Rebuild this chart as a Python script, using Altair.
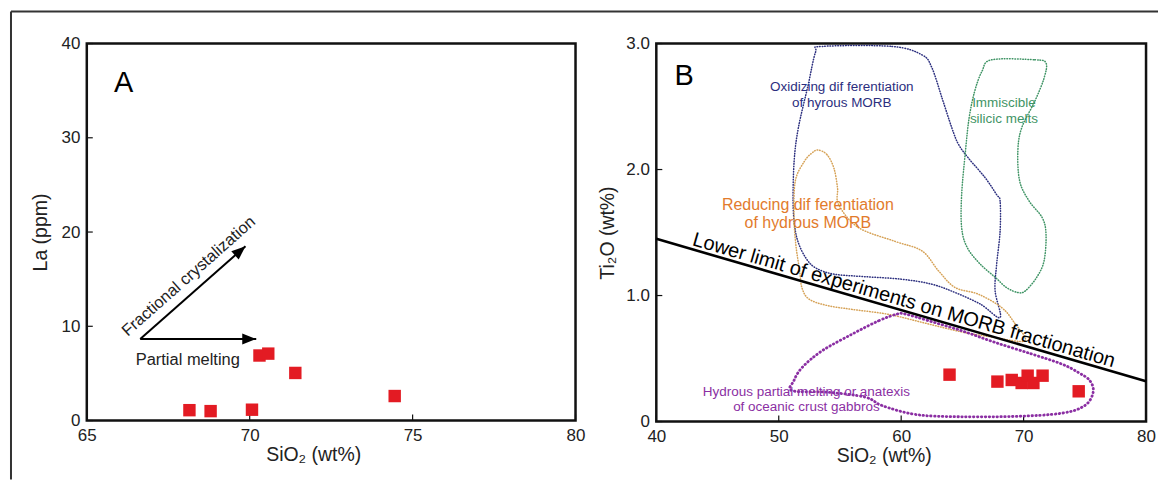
import altair as alt
import pandas as pd
import numpy as np

FONT = "Liberation Sans"

# ---------------- Panel A data ----------------
a_sio2 = [68.15, 68.8, 70.07, 70.3, 70.57, 71.4, 74.45]
a_la = [1.1, 1.0, 1.15, 6.9, 7.1, 5.05, 2.6]
a_xticks = [65, 70, 75, 80]
a_yticks = [0, 10, 20, 30, 40]

arrow_x0 = [66.64, 66.64]
arrow_y0 = [8.65, 8.65]
arrow_x1 = [70.2, 69.87]
arrow_y1 = [8.65, 18.5]

a_label_text = ["A"]
a_label_x = [66.13]
a_label_y = [35.8]

fc_text = ["Fractional crystalization"]
fc_x = [68.13]
fc_y = [15.3]

pm_text = ["Partial melting"]
pm_x = [68.1]
pm_y = [6.4]

# ---------------- Panel B data ----------------
b_sio2 = [63.95, 67.86, 69.03, 69.84, 70.33, 70.8, 71.55, 74.5]
b_tio2 = [0.372, 0.317, 0.33, 0.306, 0.364, 0.306, 0.364, 0.24]
b_xticks = [40, 50, 60, 70, 80]
b_yticks = [0, 1, 2, 3]

limit_x = [40, 80]
limit_y = [1.45, 0.32]
limit_text = ["Lower limit of experiments on MORB fractionation"]

navy_x = [53.55, 59.25, 61.7, 62.5, 63.33, 64.14, 64.68, 65.5, 66.86, 67.8, 68.08, 68.08, 67.8, 67.67,
          68.08, 66.5, 64.5, 62.5, 60.0, 57.0, 54.5, 53.0, 52.2, 51.6, 51.3, 51.17, 51.26, 51.6, 52.4, 53.0]
navy_y = [2.977, 2.977, 2.91, 2.81, 2.57, 2.33, 2.20, 2.09, 1.935, 1.80, 1.75, 1.51, 1.25, 1.04,
          0.826, 0.93, 1.02, 1.09, 1.13, 1.15, 1.17, 1.22, 1.30, 1.42, 1.55, 1.75, 2.07, 2.33, 2.67, 2.93]

green_x = [67.39, 70.91, 71.83, 71.67, 70.91, 69.84, 69.53, 69.68, 70.45, 71.52, 71.83, 71.67, 71.06,
           70.14, 69.53, 68.61, 67.7, 66.47, 65.4, 64.94, 64.94, 65.25, 65.55, 66.0, 66.6]
green_y = [2.871, 2.871, 2.845, 2.726, 2.541, 2.33, 2.145, 1.908, 1.75, 1.618, 1.486, 1.275, 1.143,
           1.037, 1.024, 1.063, 1.143, 1.248, 1.38, 1.538, 1.802, 2.145, 2.41, 2.62, 2.78]

orange_x = [53.2, 53.93, 54.5, 54.8, 54.9, 56.5, 59.5, 61.7, 63.05, 64.4, 66.3, 68.2, 69.2, 70.1,
            67.5, 65.0, 62.0, 59.0, 56.0, 54.0, 52.5, 51.9, 51.7, 51.4, 51.25, 51.35, 52.1, 52.7]
orange_y = [2.155, 2.119, 2.013, 1.855, 1.72, 1.54, 1.43, 1.354, 1.196, 1.064, 1.011, 0.905, 0.79, 0.64,
            0.67, 0.71, 0.78, 0.85, 0.89, 0.92, 0.97, 1.06, 1.20, 1.40, 1.62, 1.908, 2.066, 2.13]

purple_x = [59.66, 58.17, 56.0, 53.55, 51.92, 51.24, 51.1, 54.1, 57.08, 58.44, 60.88, 63.6, 69.03,
            73.1, 75.0, 75.68, 75.41, 74.46, 73.1, 70.66, 67.67, 64.96, 62.24, 60.34]
purple_y = [0.853, 0.80, 0.694, 0.562, 0.43, 0.325, 0.245, 0.232, 0.193, 0.127, 0.061, 0.04, 0.04,
            0.066, 0.127, 0.232, 0.325, 0.39, 0.457, 0.536, 0.628, 0.72, 0.80, 0.853]

ox_text = ["Oxidizing dif ferentiation\nof hyrous MORB"]
ox_x = [55.15]
ox_y = [2.654]

im_text = ["Immiscible\nsilicic melts"]
im_x = [68.39]
im_y = [2.524]

rd_text = ["Reducing dif ferentiation\nof hydrous MORB"]
rd_x = [52.38]
rd_y = [1.721]

hy_text = ["Hydrous partial melting or anatexis\nof oceanic crust gabbros"]
hy_x = [52.26]
hy_y = [0.2355]

b_label_text = ["B"]
b_label_x = [42.28]
b_label_y = [2.74]

# ---------------- layout constants ----------------
WA, HA = 490, 378
WB, HB = 491, 379
A_XDOM, A_YDOM = [65, 80], [0, 40]
B_XDOM, B_YDOM = [40, 80], [0, 3]

RED = "#e31b23"
NAVY = "#2b2e7e"
GREEN = "#3f9465"
ORANGE_LINE = "#d6a257"
ORANGE_TXT = "#e27b2c"
PURPLE = "#8b2fa3"
TXT = "#222222"

one = pd.DataFrame({"k": [0]})


def xs(dom):
    return alt.Scale(domain=dom, nice=False, zero=False)


# ================= Panel A =================
dfA = pd.DataFrame({"x": a_sio2, "y": a_la})
ax_a = alt.Axis(values=a_xticks, title="SiO₂ (wt%)", labelFlush=False,
                titleX=227, titleY=40, titleBaseline="alphabetic", titleAlign="center")
ay_a = alt.Axis(values=a_yticks, title="La (ppm)", titleX=-40, titleBaseline="alphabetic",
                titleAlign="center")

ptsA = alt.Chart(dfA).mark_square(size=155, color=RED, opacity=1).encode(
    x=alt.X("x:Q", scale=xs(A_XDOM), axis=ax_a),
    y=alt.Y("y:Q", scale=xs(A_YDOM), axis=ay_a),
)

xtA = alt.Chart(pd.DataFrame({"t": a_xticks})).mark_rule(color="#111", strokeWidth=1.2).encode(
    x="t:Q", y=alt.value(HA), y2=alt.value(HA - 6))
ytA = alt.Chart(pd.DataFrame({"t": a_yticks})).mark_rule(color="#111", strokeWidth=1.2).encode(
    y="t:Q", x=alt.value(0), x2=alt.value(6))

dfArrow = pd.DataFrame({"x0": arrow_x0, "y0": arrow_y0, "x1": arrow_x1, "y1": arrow_y1})
px_dx = (dfArrow.x1 - dfArrow.x0) * WA / (A_XDOM[1] - A_XDOM[0])
px_dy = (dfArrow.y1 - dfArrow.y0) * HA / (A_YDOM[1] - A_YDOM[0])
dfArrow["ang"] = 90 - np.degrees(np.arctan2(px_dy, px_dx))
fc_angle = -float(np.degrees(np.arctan2(px_dy[1], px_dx[1])))

arrowLines = alt.Chart(dfArrow).mark_rule(color="black", strokeWidth=2).encode(
    x="x0:Q", y="y0:Q", x2="x1:Q", y2="y1:Q")
arrowHeads = alt.Chart(dfArrow).mark_point(
    shape="M0,0L0.8,2L-0.8,2Z", size=196, filled=True, color="black", opacity=1
).encode(x="x1:Q", y="y1:Q", angle=alt.Angle("ang:Q", scale=None))

labA = alt.Chart(pd.DataFrame({"t": a_label_text, "x": a_label_x, "y": a_label_y})).mark_text(
    font=FONT, fontSize=29, color="black", align="center", baseline="middle").encode(
    x="x:Q", y="y:Q", text="t:N")
fcA = alt.Chart(pd.DataFrame({"t": fc_text, "x": fc_x, "y": fc_y})).mark_text(
    font=FONT, fontSize=16.5, color=TXT, align="center", baseline="middle", angle=360 + fc_angle).encode(
    x="x:Q", y="y:Q", text="t:N")
pmA = alt.Chart(pd.DataFrame({"t": pm_text, "x": pm_x, "y": pm_y})).mark_text(
    font=FONT, fontSize=16.5, color=TXT, align="center", baseline="middle").encode(
    x="x:Q", y="y:Q", text="t:N")

frameTop = alt.Chart(one).mark_rule(color="#333", strokeWidth=2).encode(
    x=alt.value(-76), x2=alt.value(1074), y=alt.value(-32))
frameLeft = alt.Chart(one).mark_rule(color="#333", strokeWidth=2).encode(
    x=alt.value(-76), y=alt.value(-32), y2=alt.value(437))

panelA = alt.layer(frameTop, frameLeft, xtA, ytA, arrowLines, arrowHeads, fcA, pmA, labA, ptsA).properties(
    width=WA, height=HA)

# ================= Panel B =================
dfB = pd.DataFrame({"x": b_sio2, "y": b_tio2})
ax_b = alt.Axis(values=b_xticks, title="SiO₂ (wt%)", labelFlush=False,
                titleX=228, titleY=40, titleBaseline="alphabetic", titleAlign="center")
ay_b = alt.Axis(values=b_yticks, title="Ti₂O (wt%)", titleX=-43, titleBaseline="alphabetic",
                titleAlign="center",
                labelExpr="datum.value == 0 ? '0' : format(datum.value, '.1f')")

ptsB = alt.Chart(dfB).mark_square(size=155, color=RED, opacity=1).encode(
    x=alt.X("x:Q", scale=xs(B_XDOM), axis=ax_b),
    y=alt.Y("y:Q", scale=xs(B_YDOM), axis=ay_b),
)

xtB = alt.Chart(pd.DataFrame({"t": b_xticks})).mark_rule(color="#111", strokeWidth=1.2).encode(
    x="t:Q", y=alt.value(HB), y2=alt.value(HB - 6))
ytB = alt.Chart(pd.DataFrame({"t": b_yticks})).mark_rule(color="#111", strokeWidth=1.2).encode(
    y="t:Q", x=alt.value(0), x2=alt.value(6))


def poly(xv, yv, color, width, dash):
    d = pd.DataFrame({"x": xv, "y": yv, "i": range(len(xv))})
    return alt.Chart(d).mark_line(
        color=color, strokeWidth=width, strokeDash=dash, interpolate="cardinal-closed",
        strokeCap="round").encode(x="x:Q", y="y:Q", order="i:Q")


navyP = poly(navy_x, navy_y, NAVY, 1.5, [0.6, 2.0])
greenP = poly(green_x, green_y, GREEN, 1.5, [0.6, 2.0])
orangeP = poly(orange_x, orange_y, ORANGE_LINE, 1.5, [0.6, 2.0])
purpleP = poly(purple_x, purple_y, PURPLE, 2.8, [0.5, 3.4])

dfLim = pd.DataFrame({"x0": [limit_x[0]], "y0": [limit_y[0]], "x1": [limit_x[1]], "y1": [limit_y[1]]})
limLine = alt.Chart(dfLim).mark_rule(color="black", strokeWidth=2.6).encode(
    x="x0:Q", y="y0:Q", x2="x1:Q", y2="y1:Q")
lim_dx = (limit_x[1] - limit_x[0]) * WB / (B_XDOM[1] - B_XDOM[0])
lim_dy = (limit_y[0] - limit_y[1]) * HB / (B_YDOM[1] - B_YDOM[0])
lim_angle = float(np.degrees(np.arctan2(lim_dy, lim_dx)))
dfLimText = pd.DataFrame({"t": limit_text, "x": [np.mean(limit_x)], "y": [np.mean(limit_y)]})
limText = alt.Chart(dfLimText).mark_text(
    font=FONT, fontSize=20, color="black", align="center", baseline="alphabetic",
    angle=lim_angle, dy=-4).encode(x="x:Q", y="y:Q", text="t:N")


def label(texts, xv, yv, color, size, lh):
    d = pd.DataFrame({"t": texts, "x": xv, "y": yv})
    return alt.Chart(d).mark_text(font=FONT, fontSize=size, color=color, align="center",
                                  baseline="middle", lineBreak="\n", lineHeight=lh).encode(
        x="x:Q", y="y:Q", text="t:N")


oxL = label(ox_text, ox_x, ox_y, NAVY, 13.5, 15.5)
imL = label(im_text, im_x, im_y, GREEN, 13.5, 15.5)
rdL = label(rd_text, rd_x, rd_y, ORANGE_TXT, 16, 18.5)
hyL = label(hy_text, hy_x, hy_y, PURPLE, 13.5, 15.5)
bL = label(b_label_text, b_label_x, b_label_y, "black", 29, 29)

panelB = alt.layer(xtB, ytB, navyP, greenP, orangeP, purpleP, limLine, limText,
                   oxL, imL, rdL, hyL, bL, ptsB).properties(width=WB, height=HB)

chart = alt.hconcat(
    panelA, panelB, spacing=81, bounds="flush", padding=0, background="white"
).configure_view(
    stroke="#111", strokeWidth=2.5
).configure_axis(
    grid=False, domain=False, ticks=False, tickSize=0,
    labelFont=FONT, labelFontSize=17, labelColor=TXT, labelPadding=7,
    titleFont=FONT, titleFontSize=19.5, titleFontWeight="normal", titleColor=TXT,
)

chart.save("out.html", embed_options={"renderer": "svg", "actions": False})
